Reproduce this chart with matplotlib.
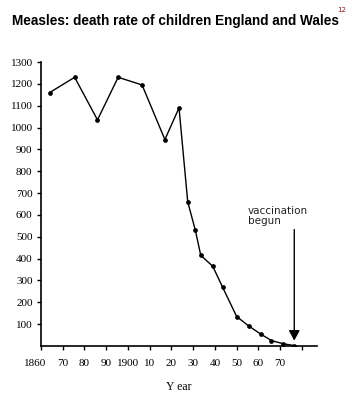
import matplotlib
matplotlib.use("Agg")
import matplotlib.pyplot as plt

# measles deaths per million children, England and Wales
years = [1864, 1875.5, 1886, 1895.5, 1906.5, 1917, 1923.5, 1927.5, 1931,
         1933.5, 1939, 1943.5, 1950, 1955.5, 1961, 1966, 1971.5, 1976.5]
deaths = [1160, 1230, 1035, 1230, 1195, 945, 1090, 660, 530,
          415, 365, 270, 135, 92, 55, 25, 10, 2]

xticks = [1860, 1870, 1880, 1890, 1900, 1910, 1920, 1930, 1940, 1950, 1960, 1970, 1980]
xlabels = ['', '70', '80', '90', '1900', '10', '20', '30', '40', '50', '60', '70', '']
yticks = [100, 200, 300, 400, 500, 600, 700, 800, 900, 1000, 1100, 1200, 1300]

vacc_year = 1976.5

serif = ['Liberation Serif', 'DejaVu Serif']

fig = plt.figure(figsize=(3.5, 4), dpi=100)
ax = fig.add_axes([0.117, 0.135, 0.789, 0.71])

ax.plot(years, deaths, color='black', lw=1.0, marker='o', ms=2.4)

ax.set_xlim(1860, 1987)
ax.set_ylim(0, 1300)
ax.spines['top'].set_visible(False)
ax.spines['right'].set_visible(False)
ax.spines['left'].set_linewidth(1.2)
ax.spines['bottom'].set_linewidth(1.2)

ax.set_xticks(xticks)
ax.set_xticklabels(xlabels, fontfamily=serif, fontsize=8)
ax.set_yticks(yticks)
ax.set_yticklabels([str(v) for v in yticks], fontfamily=serif, fontsize=8)
ax.tick_params(axis='both', length=3, width=1, direction='out')
ax.tick_params(axis='x', pad=6)
ax.tick_params(axis='y', pad=3)

# first year label sits a little left of its tick, clear of the y axis
ax.annotate(str(xticks[0]), xy=(xticks[0], 0), xycoords=('data', 'axes fraction'),
            xytext=(-4.5, -9), textcoords='offset points', ha='center', va='top',
            fontfamily=serif, fontsize=8)

ax.set_xlabel('Y ear', fontfamily=serif, fontsize=8.5, labelpad=10)

# vaccination arrow
ax.annotate('', xy=(vacc_year, 12), xytext=(vacc_year, 546),
            arrowprops=dict(arrowstyle='-|>,head_length=0.55,head_width=0.3',
                            color='black', lw=1, mutation_scale=11))
ax.text(1955, 640, 'vaccination\nbegun', fontsize=7.5, va='top', ha='left',
        linespacing=1.0, family='DejaVu Sans', color='#222222')

fig.text(0.5, 0.948, 'Measles: death rate of children England and Wales',
         ha='center', va='center', fontsize=9.8, fontweight='bold',
         family=['Liberation Sans Narrow', 'Liberation Sans'])
fig.text(0.977, 0.975, '12', ha='center', va='center', fontsize=5,
         color='#8b1a1a')

fig.savefig('out.png', dpi=100)
